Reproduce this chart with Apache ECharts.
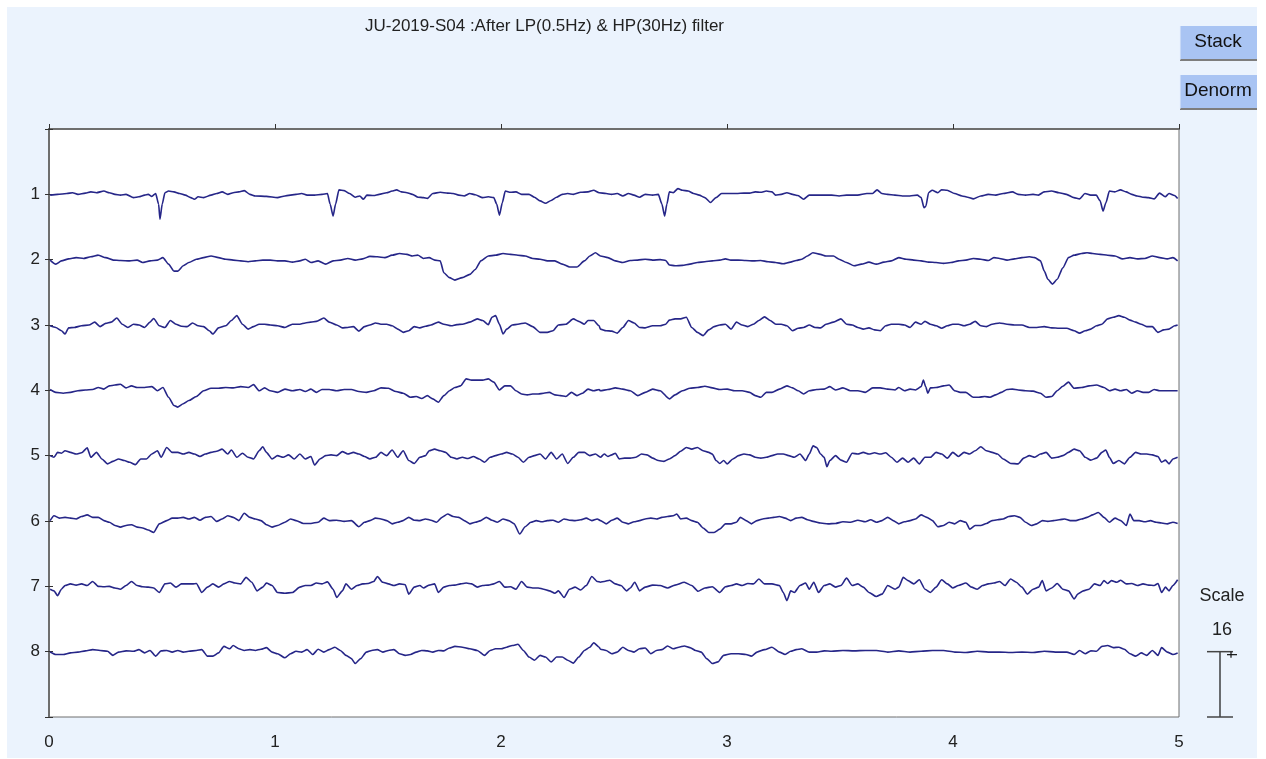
<!DOCTYPE html>
<html>
<head>
<meta charset="utf-8">
<title>JU-2019-S04</title>
<script src="https://cdn.jsdelivr.net/npm/echarts@6/dist/echarts.min.js"></script>
<style>
  html, body { margin: 0; padding: 0; background: #fff; }
  #main { width: 1266px; height: 759px; }
</style>
</head>
<body>
<div id="main"></div>
<script>
// title and labels
var titleText = 'JU-2019-S04 :After LP(0.5Hz) & HP(30Hz) filter'
var channelNames = ['1', '2', '3', '4', '5', '6', '7', '8']
var xTicks = [0, 1, 2, 3, 4, 5]
var scaleValue = 16   // amplitude of one channel spacing

// traces: [time (s), amplitude], amplitude positive = up
var ch1 = [[0.005,-0.2],[0.038,0],[0.079,0.2],[0.104,0.4],[0.128,0],[0.161,0.3],[0.185,0.6],[0.210,0.4],[0.243,0.8],[0.267,0.4],[0.292,0],[0.316,-0.2],[0.341,0],[0.374,-0.8],[0.398,-0.6],[0.423,-0.2],[0.439,0],[0.455,-0.5],[0.472,0.2],[0.485,-2.4],[0.491,-6.1],[0.501,-2.4],[0.513,0.4],[0.529,0.8],[0.553,0.6],[0.578,0.2],[0.603,-0.2],[0.627,-0.8],[0.643,-1.2],[0.660,-0.6],[0.684,-0.8],[0.717,-0.2],[0.742,0.2],[0.766,0.6],[0.791,0],[0.815,0.4],[0.840,0.6],[0.864,0.9],[0.889,0],[0.913,-0.4],[0.962,-0.5],[1.011,-0.8],[1.044,-0.4],[1.093,0],[1.118,0.2],[1.142,-0.2],[1.175,-0.2],[1.208,0],[1.232,0.2],[1.244,-2.4],[1.257,-5.3],[1.268,-2.4],[1.283,1.1],[1.306,0.9],[1.330,0.2],[1.355,-0.7],[1.375,-0.4],[1.391,-1.2],[1.407,-0.2],[1.437,-0.3],[1.461,0],[1.494,0.4],[1.518,0.8],[1.538,1.1],[1.559,0.6],[1.584,0.4],[1.608,0],[1.633,-0.7],[1.657,-0.8],[1.674,-1.0],[1.698,0.2],[1.731,0.5],[1.764,0.3],[1.788,0.2],[1.813,-0.2],[1.837,-0.4],[1.862,0.2],[1.886,-0.1],[1.919,-0.8],[1.944,-0.6],[1.968,-0.8],[1.981,-2.4],[1.993,-5.1],[2.006,-2.0],[2.019,0.8],[2.042,0.5],[2.066,0.6],[2.091,0],[2.124,0],[2.148,-0.7],[2.173,-1.6],[2.197,-2.2],[2.222,-1.5],[2.246,-0.7],[2.271,0],[2.295,0.2],[2.320,0],[2.353,0.5],[2.385,0.6],[2.410,1.0],[2.434,0.4],
  [2.465,0.2],[2.489,0],[2.514,0.2],[2.539,-0.4],[2.564,0.2],[2.588,-0.2],[2.613,-0.7],[2.638,0],[2.671,-0.2],[2.696,0],[2.712,-2.4],[2.724,-5.3],[2.734,-2.4],[2.745,0.6],[2.762,0.4],[2.783,1.4],[2.803,1.0],[2.828,0.8],[2.852,0.2],[2.877,-0.2],[2.902,-0.8],[2.927,-2.0],[2.951,-0.8],[2.976,0.2],[3.009,0.2],[3.042,0.2],[3.075,0.3],[3.100,0.3],[3.125,0.6],[3.149,0.5],[3.174,0.8],[3.199,0.6],[3.215,-0.2],[3.240,0],[3.265,0.4],[3.290,0],[3.314,-0.3],[3.339,-1.2],[3.364,-0.2],[3.397,-0.2],[3.430,-0.2],[3.463,-0.2],[3.496,-0.4],[3.529,-0.2],[3.578,-0.2],[3.619,0.2],[3.644,0.2],[3.664,1.1],[3.685,0.2],[3.710,0],[3.743,-0.2],[3.776,-0.4],[3.809,-0.4],[3.842,-0.2],[3.859,-0.8],[3.872,-3.3],[3.880,-2.9],[3.892,0.4],[3.908,1.0],[3.933,0.4],[3.949,1.1],[3.974,1.0],[4.007,0.2],[4.040,-0.4],[4.065,-0.7],[4.090,-1.1],[4.123,-0.4],[4.156,0],[4.189,-0.2],[4.222,0.2],[4.263,0.6],[4.288,0],[4.321,-0.2],[4.354,0],[4.378,-0.2],[4.403,0.6],[4.436,0.8],[4.469,0.4],[4.502,0],[4.535,-0.8],[4.560,-1.1],[4.584,0.2],[4.609,-0.2],[4.634,-0.2],[4.651,-1.6],[4.664,-4.1],[4.677,-2.0],[4.692,0.8],[4.716,0.6],[4.741,1.1],[4.766,0.6],[4.791,0],[4.815,-0.4],[4.840,-0.7],[4.865,-0.8],[4.890,-1.1],[4.914,0.3],[4.939,-0.6],[4.956,0.2],[4.980,-0.3],[4.994,-1.0]]

var ch2 = [[0.005,-0.1],[0.030,-1.1],[0.055,-0.3],[0.087,0.2],[0.120,0.5],[0.153,0.3],[0.185,0.7],[0.218,1.1],[0.251,0.5],[0.284,-0.1],[0.316,-0.2],[0.357,-0.3],[0.390,-0.1],[0.414,-0.7],[0.447,-0.3],[0.480,-0.1],[0.504,0.5],[0.529,-1.1],[0.553,-2.8],[0.570,-2.8],[0.594,-1.5],[0.619,-0.7],[0.652,0.1],[0.684,0.5],[0.717,0.9],[0.750,0.5],[0.782,0.1],[0.815,-0.1],[0.848,-0.3],[0.881,-0.5],[0.913,-0.3],[0.946,-0.1],[0.979,-0.1],[1.011,-0.3],[1.044,-0.3],[1.077,-0.6],[1.110,-0.3],[1.134,0.1],[1.159,-0.7],[1.191,-0.3],[1.224,-1.1],[1.257,-0.3],[1.289,-0.1],[1.322,0.3],[1.355,-0.1],[1.388,0.2],[1.420,0.8],[1.453,0.7],[1.486,0.5],[1.518,1.1],[1.551,1.5],[1.584,1.3],[1.608,0.9],[1.633,1.1],[1.657,0.3],[1.682,0.5],[1.707,-0.1],[1.731,-0.3],[1.747,-3.2],[1.772,-4.4],[1.796,-5.0],[1.829,-4.4],[1.862,-3.6],[1.886,-2.4],[1.911,-0.3],[1.944,0.9],[1.976,1.1],[2.009,1.5],[2.042,1.3],[2.075,1.1],[2.107,0.9],[2.140,0.3],[2.173,0.1],[2.205,-0.3],[2.238,-0.3],[2.271,-1.1],[2.304,-1.8],[2.336,-1.8],[2.369,-0.3],[2.393,0.9],[2.418,1.7],
  [2.440,0.9],[2.473,0.5],[2.506,-0.3],[2.539,-0.7],[2.572,-0.2],[2.605,-0.1],[2.638,0.1],[2.671,-0.1],[2.704,0],[2.729,-0.2],[2.745,-1.3],[2.770,-1.5],[2.803,-1.4],[2.836,-1.1],[2.869,-0.7],[2.902,-0.5],[2.935,-0.3],[2.968,-0.1],[2.993,0.2],[3.017,-0.1],[3.050,-0.1],[3.083,-0.2],[3.116,-0.3],[3.149,-0.2],[3.182,-0.5],[3.215,-0.7],[3.248,-1.0],[3.281,-0.6],[3.306,-0.2],[3.331,0.1],[3.356,0.9],[3.380,1.7],[3.413,1.3],[3.438,0.9],[3.471,0.9],[3.496,0.1],[3.529,-0.7],[3.562,-1.5],[3.595,-1.1],[3.628,-0.6],[3.661,-1.1],[3.694,-0.6],[3.727,-0.3],[3.760,0.5],[3.793,0.1],[3.826,-0.1],[3.859,-0.3],[3.892,-0.6],[3.925,-0.7],[3.958,-0.9],[3.991,-0.7],[4.024,-0.3],[4.057,-0.1],[4.090,0.3],[4.123,0.1],[4.156,-0.2],[4.181,0.5],[4.206,0.3],[4.239,-0.1],[4.272,0.2],[4.305,0.5],[4.338,0.7],[4.362,0.5],[4.387,-0.3],[4.404,-2.8],[4.420,-4.8],[4.440,-6.0],[4.461,-4.8],[4.486,-2.0],[4.511,0.5],[4.536,1.1],[4.569,1.5],[4.593,1.7],[4.618,1.5],[4.651,1.3],[4.684,1.1],[4.717,0.9],[4.750,0.2],[4.783,0.5],[4.816,0.2],[4.849,0.3],[4.882,0.9],[4.915,0.5],[4.948,0.2],[4.973,0.5],[4.994,-0.3]]

var ch3 = [[0.005,-0.2],[0.030,-0.6],[0.055,-1.4],[0.071,-2.2],[0.087,-0.7],[0.112,-0.6],[0.144,-0.2],[0.177,0],[0.202,0.7],[0.226,-0.4],[0.251,0.4],[0.275,0.7],[0.300,1.7],[0.324,0.2],[0.349,-0.6],[0.374,0.2],[0.398,0],[0.423,-0.6],[0.447,0.7],[0.463,1.6],[0.488,-0.2],[0.513,-0.6],[0.537,1.1],[0.562,0.2],[0.586,-0.3],[0.611,-0.4],[0.635,0.5],[0.660,-0.2],[0.684,-0.4],[0.709,-1.4],[0.725,-2.2],[0.750,-0.7],[0.782,-0.2],[0.807,1.1],[0.831,2.3],[0.856,0.2],[0.881,-1.0],[0.905,-0.4],[0.930,0.2],[0.954,0.2],[0.979,0],[1.011,-0.2],[1.044,-0.6],[1.077,0.2],[1.110,0.2],[1.134,0.5],[1.159,0.7],[1.183,0.9],[1.216,1.7],[1.240,0.7],[1.273,0],[1.298,-0.7],[1.322,-0.6],[1.347,-0.4],[1.371,-1.5],[1.396,-0.4],[1.420,0],[1.445,0.5],[1.469,0.2],[1.494,0.2],[1.518,-0.2],[1.543,-1.0],[1.567,-1.8],[1.592,-1.4],[1.616,-0.4],[1.641,-0.7],[1.666,-0.3],[1.690,0],[1.723,0.7],[1.747,0.2],[1.780,-0.2],[1.805,0.1],[1.829,0.2],[1.862,0.7],[1.895,1.5],[1.919,1.1],[1.944,0.1],[1.960,1.9],[1.976,2.3],[1.993,0.2],[2.009,-2.2],[2.025,-1.0],[2.050,0],[2.075,0.2],[2.107,0.5],[2.140,-0.4],[2.173,-1.8],[2.205,-1.8],[2.230,-1.4],[2.254,0],[2.287,0.2],[2.320,1.5],[2.344,0.9],[2.369,0.2],[2.385,1.1],[2.410,1.1],[2.434,-0.2],
  [2.440,-1.0],[2.465,-1.4],[2.490,-1.5],[2.514,-2.0],[2.539,-0.6],[2.564,1.1],[2.589,0.5],[2.613,-0.6],[2.638,-0.7],[2.671,-0.2],[2.704,-0.2],[2.729,0.2],[2.745,1.2],[2.770,1.5],[2.795,1.5],[2.820,1.9],[2.844,-0.6],[2.869,-1.8],[2.894,-2.6],[2.919,-1.2],[2.943,-0.4],[2.968,0],[2.993,0.2],[3.018,-1.0],[3.042,0.7],[3.067,0],[3.092,-0.4],[3.117,0.2],[3.141,1.1],[3.166,2.0],[3.191,1.1],[3.216,0.2],[3.240,0.2],[3.265,-0.2],[3.290,-1.4],[3.315,-0.8],[3.339,-0.6],[3.364,0],[3.389,-0.6],[3.414,-0.7],[3.438,0.2],[3.471,0.7],[3.504,1.5],[3.529,0.2],[3.554,0],[3.579,-0.6],[3.603,-1.0],[3.628,-0.7],[3.653,-1.2],[3.678,-1.4],[3.702,-0.2],[3.727,0.2],[3.760,0.2],[3.785,0],[3.810,-0.6],[3.834,0.7],[3.859,0.2],[3.876,0.9],[3.900,0.2],[3.925,-0.2],[3.950,-0.8],[3.975,-0.2],[3.999,0.2],[4.024,0.2],[4.049,-0.2],[4.074,0.2],[4.098,0.9],[4.123,-0.2],[4.148,-0.4],[4.173,0.2],[4.206,0.5],[4.239,0.2],[4.272,0],[4.305,0],[4.338,-0.6],[4.371,-0.6],[4.404,-0.4],[4.437,-0.7],[4.470,-0.8],[4.503,-0.8],[4.536,-1.4],[4.560,-2.0],[4.585,-1.4],[4.610,-1.0],[4.635,-0.2],[4.659,0.2],[4.684,1.5],[4.709,1.9],[4.734,2.3],[4.758,1.9],[4.783,1.2],[4.808,0.7],[4.833,0.2],[4.857,-0.4],[4.882,-0.4],[4.907,-1.8],[4.932,-1.2],[4.956,-1.0],[4.981,-0.2],[4.994,0]]

var ch4 = [[0.005,0.2],[0.030,-0.5],[0.063,-0.7],[0.095,-0.5],[0.128,-0.1],[0.161,0.1],[0.193,0.2],[0.218,0.7],[0.243,0.3],[0.267,1.1],[0.292,1.3],[0.316,1.5],[0.341,0.6],[0.365,1.1],[0.390,0.7],[0.423,0.7],[0.455,0.9],[0.480,-0.1],[0.504,0.7],[0.529,-1.7],[0.553,-3.7],[0.570,-4.1],[0.594,-3.3],[0.619,-2.5],[0.652,-1.5],[0.684,-0.1],[0.717,0.5],[0.750,0.5],[0.782,0.7],[0.815,0.6],[0.848,0.9],[0.881,0.7],[0.905,1.4],[0.930,-0.1],[0.954,0.6],[0.979,-0.1],[1.011,-0.5],[1.044,0.3],[1.077,-0.1],[1.110,0.2],[1.134,-0.3],[1.159,0.3],[1.183,-0.5],[1.208,0.2],[1.240,0.2],[1.273,-0.1],[1.306,0.2],[1.338,0.2],[1.371,-0.3],[1.404,-0.5],[1.437,-0.1],[1.469,0.6],[1.502,0.5],[1.535,-0.3],[1.567,-0.7],[1.600,-1.7],[1.625,-1.5],[1.649,-2.0],[1.674,-1.3],[1.698,-2.1],[1.723,-2.9],[1.747,-1.3],[1.772,-0.1],[1.796,0.7],[1.821,1.1],[1.846,2.8],[1.870,2.5],[1.895,2.5],[1.919,2.5],[1.944,2.8],[1.968,2.0],[1.993,0.1],[2.017,1.1],[2.042,1.1],[2.066,-0.1],[2.091,-0.9],[2.116,-1.1],[2.140,-0.9],[2.165,-0.9],[2.189,-0.7],[2.214,-0.5],[2.238,-1.1],[2.263,-1.3],[2.287,-1.5],[2.312,-0.5],[2.336,-1.3],[2.361,-0.7],[2.385,0.3],[2.410,-0.1],[2.434,0.2],
  [2.440,-0.1],[2.473,0.2],[2.506,0.6],[2.539,0.3],[2.572,-0.1],[2.605,-1.3],[2.638,-0.5],[2.671,0.3],[2.704,-0.1],[2.745,-2.1],[2.770,-1.1],[2.803,-0.1],[2.836,0.5],[2.869,0.7],[2.902,1.0],[2.935,0.6],[2.968,0.2],[3.001,0.3],[3.034,-0.1],[3.067,-0.1],[3.100,-0.5],[3.125,-1.3],[3.150,-1.7],[3.174,-0.5],[3.199,-0.5],[3.232,0.3],[3.265,1.1],[3.290,0.6],[3.315,-0.1],[3.339,-0.9],[3.364,-0.1],[3.397,0.2],[3.430,0.3],[3.455,0.9],[3.480,0.1],[3.513,0.6],[3.546,-0.1],[3.579,-0.1],[3.612,-0.5],[3.645,0.6],[3.678,0.6],[3.711,0.3],[3.744,0.1],[3.760,0.7],[3.785,-0.1],[3.810,0.3],[3.834,0.1],[3.859,0.9],[3.869,2.5],[3.879,0.9],[3.889,-0.7],[3.900,0.6],[3.925,0.7],[3.958,1.1],[3.983,1.3],[4.008,-0.1],[4.032,-0.5],[4.057,-0.5],[4.090,-1.7],[4.115,-1.7],[4.140,-1.5],[4.164,-1.7],[4.189,-1.1],[4.214,-0.5],[4.239,0.2],[4.263,0.3],[4.288,0.1],[4.321,-0.1],[4.354,-0.2],[4.387,-0.7],[4.412,-1.7],[4.437,-1.5],[4.461,-0.1],[4.486,1.0],[4.511,2.0],[4.536,0.5],[4.569,0.7],[4.602,1.1],[4.635,1.3],[4.668,0.7],[4.692,-0.1],[4.717,0.3],[4.742,-0.1],[4.767,0.2],[4.791,-0.7],[4.816,-0.1],[4.841,-0.5],[4.866,-0.5],[4.890,0.2],[4.915,-0.1],[4.948,-0.1],[4.994,-0.1]]

var ch5 = [[0.005,0],[0.022,-0.4],[0.038,0.8],[0.055,0.6],[0.071,1.2],[0.095,0.8],[0.120,0.4],[0.144,0.7],[0.169,1.9],[0.185,-0.4],[0.210,0.8],[0.234,-0.8],[0.259,-2.0],[0.283,-1.4],[0.308,-0.8],[0.333,-1.2],[0.357,-1.6],[0.382,-2.2],[0.406,-0.8],[0.431,-0.8],[0.455,0.4],[0.480,1.2],[0.496,-0.4],[0.521,2.0],[0.545,0.8],[0.570,0.8],[0.594,0.4],[0.619,0.8],[0.643,0.4],[0.668,-0.2],[0.692,0.4],[0.717,0.8],[0.742,1.1],[0.766,1.6],[0.791,0.4],[0.807,1.4],[0.831,-0.4],[0.856,0.6],[0.881,-0.4],[0.905,-0.8],[0.930,1.2],[0.946,2.2],[0.962,0.8],[0.987,-0.8],[1.011,0],[1.036,-0.4],[1.060,0.2],[1.085,-0.8],[1.110,0.4],[1.134,-0.8],[1.159,-0.2],[1.175,-2.3],[1.199,-0.8],[1.224,0],[1.248,0.2],[1.273,0],[1.298,1.0],[1.322,0.4],[1.347,0.8],[1.371,0.4],[1.396,-0.2],[1.420,-0.8],[1.445,-0.4],[1.469,0.8],[1.494,0],[1.518,1.4],[1.543,-0.4],[1.567,1.2],[1.592,-1.2],[1.616,-1.9],[1.641,-0.4],[1.666,0],[1.682,1.2],[1.706,1.6],[1.731,1.2],[1.755,0.8],[1.780,-0.4],[1.805,-0.8],[1.829,-0.4],[1.854,-0.7],[1.878,-0.2],[1.903,-0.8],[1.927,-1.6],[1.952,-0.4],[1.976,0],[2.001,0.4],[2.025,0.8],[2.050,0.4],[2.075,-0.4],[2.099,-1.6],[2.124,-0.4],[2.148,0],[2.173,0.4],[2.197,-0.8],[2.222,0.8],[2.246,-0.8],[2.271,0.4],[2.295,-1.9],[2.320,-0.4],[2.344,0.8],[2.369,0.8],[2.393,0],[2.418,0.4],
  [2.440,-0.4],[2.457,0.4],[2.473,-0.2],[2.490,0.2],[2.506,0.6],[2.523,-0.8],[2.547,-0.6],[2.572,-0.6],[2.597,-0.4],[2.622,0.4],[2.646,0.2],[2.671,-0.6],[2.696,-1.2],[2.721,-1.4],[2.745,-0.8],[2.770,0],[2.795,1.1],[2.820,2.0],[2.844,1.6],[2.869,2.0],[2.894,1.2],[2.919,0.8],[2.935,0.4],[2.952,-1.2],[2.968,-1.9],[2.985,-1.2],[3.001,-2.0],[3.026,-0.8],[3.051,0],[3.075,0.4],[3.100,0.2],[3.125,-0.4],[3.150,-0.6],[3.174,-0.4],[3.199,0],[3.224,0.4],[3.249,0.4],[3.273,0],[3.298,-0.4],[3.323,0.4],[3.348,-1.2],[3.364,0.4],[3.381,2.4],[3.397,2.0],[3.414,0.4],[3.430,-0.4],[3.442,-2.7],[3.455,-1.2],[3.480,0],[3.504,-1.1],[3.529,-1.6],[3.554,0.6],[3.579,0.4],[3.603,0.8],[3.628,0.4],[3.653,0.7],[3.678,0.4],[3.702,0.7],[3.727,-0.4],[3.752,-1.6],[3.777,-0.6],[3.801,-1.6],[3.826,-0.6],[3.851,-2.0],[3.876,-0.4],[3.900,-0.4],[3.925,0.8],[3.950,0.4],[3.975,-0.6],[3.999,0.8],[4.024,-0.2],[4.049,0.8],[4.074,0.4],[4.098,1.2],[4.123,2.2],[4.148,1.2],[4.173,0.8],[4.197,0.4],[4.222,-0.8],[4.255,-1.9],[4.288,-2.0],[4.313,-0.6],[4.338,0],[4.362,-0.4],[4.387,0.4],[4.412,0.8],[4.437,-0.6],[4.461,-0.4],[4.486,0],[4.511,0.8],[4.536,1.6],[4.560,1.2],[4.585,-0.4],[4.610,-1.1],[4.635,-0.6],[4.659,0.8],[4.676,1.4],[4.692,-0.4],[4.709,-1.9],[4.734,-1.2],[4.758,-2.0],[4.783,-0.4],[4.808,0.8],[4.833,0.4],[4.857,0.4],[4.882,0.2],[4.907,-0.2],[4.923,-1.6],[4.940,-1.1],[4.956,-2.0],[4.973,-0.8],[4.994,-0.4]]

var ch6 = [[0.005,0.1],[0.022,1.3],[0.046,0.7],[0.071,0.9],[0.095,0.7],[0.120,0.5],[0.144,1.1],[0.169,1.5],[0.193,0.9],[0.218,0.9],[0.243,0.1],[0.267,-0.3],[0.292,-1.1],[0.316,-1.5],[0.341,-1.1],[0.365,-0.9],[0.390,-1.5],[0.414,-1.7],[0.439,-2.2],[0.463,-2.8],[0.488,-0.7],[0.521,0.1],[0.545,0.7],[0.570,0.7],[0.594,0.9],[0.619,0.5],[0.643,0.9],[0.668,0.2],[0.692,0.9],[0.717,1.1],[0.742,-0.1],[0.766,0.5],[0.791,1.3],[0.815,0.9],[0.840,0.1],[0.864,1.9],[0.889,0.9],[0.913,0.5],[0.938,0.1],[0.962,-0.9],[0.987,-1.5],[1.011,-1.1],[1.044,-0.3],[1.069,0.5],[1.093,0.1],[1.126,-0.6],[1.159,-0.6],[1.191,-0.3],[1.216,0.7],[1.240,0.1],[1.273,0.2],[1.306,-0.1],[1.338,0.1],[1.371,-1.4],[1.396,-0.3],[1.420,0.1],[1.445,0.7],[1.469,0.5],[1.494,0.1],[1.518,-0.7],[1.543,-0.3],[1.567,0.1],[1.592,0.9],[1.616,0.2],[1.641,0.1],[1.666,0.5],[1.690,0.2],[1.715,-0.3],[1.739,0.9],[1.764,1.7],[1.788,1.1],[1.813,0.9],[1.837,0.1],[1.862,-0.7],[1.886,-0.3],[1.911,0.1],[1.935,0.9],[1.960,0.2],[1.984,-0.3],[2.009,0.5],[2.034,0.1],[2.058,-0.7],[2.083,-3.2],[2.107,-1.4],[2.132,-0.3],[2.156,0.1],[2.181,-0.2],[2.205,0.1],[2.230,0.2],[2.254,-0.3],[2.279,0.5],[2.303,0.2],[2.328,0.1],[2.353,0.3],[2.377,0.7],[2.402,0.1],[2.426,0.5],
  [2.440,0.1],[2.465,-0.7],[2.490,0.2],[2.514,0.7],[2.539,-0.3],[2.564,-0.7],[2.589,-0.2],[2.613,0.1],[2.638,0.5],[2.663,0.7],[2.688,0.5],[2.712,0.9],[2.737,1.1],[2.762,1.3],[2.778,1.7],[2.795,0.5],[2.820,0.7],[2.844,0.1],[2.869,-0.3],[2.894,-1.7],[2.919,-2.8],[2.943,-2.8],[2.968,-2.0],[2.993,-0.7],[3.018,-0.7],[3.042,-0.3],[3.059,0.9],[3.084,0.1],[3.108,-0.7],[3.133,0.1],[3.158,0.5],[3.183,0.7],[3.207,0.9],[3.232,1.1],[3.257,0.7],[3.282,0.1],[3.306,0.7],[3.331,0.9],[3.356,0.3],[3.381,-0.1],[3.414,-0.5],[3.447,-0.7],[3.480,-0.6],[3.513,-0.2],[3.546,-0.3],[3.579,0.2],[3.612,-0.2],[3.636,0.3],[3.661,-0.3],[3.686,0.1],[3.711,0.9],[3.735,0.1],[3.760,-0.7],[3.785,-0.2],[3.810,0.1],[3.834,0.5],[3.859,1.5],[3.884,0.9],[3.909,0.1],[3.933,-1.4],[3.958,-1.1],[3.983,-0.3],[4.008,-0.7],[4.032,0.1],[4.057,-0.3],[4.074,-2.0],[4.098,-1.1],[4.123,-1.1],[4.148,-0.6],[4.173,0.1],[4.197,0.3],[4.222,0.5],[4.247,1.1],[4.272,1.3],[4.296,0.9],[4.321,-0.3],[4.346,-1.1],[4.371,-0.7],[4.396,0.1],[4.420,-0.1],[4.445,0.1],[4.470,0.3],[4.494,0.5],[4.519,0.1],[4.544,0.1],[4.569,0.5],[4.593,0.9],[4.618,1.5],[4.643,2.1],[4.668,0.9],[4.692,-0.3],[4.717,0.7],[4.742,0.1],[4.767,-1.1],[4.783,1.7],[4.800,0.1],[4.824,0.1],[4.849,-0.2],[4.874,0.1],[4.899,-0.3],[4.923,-0.5],[4.948,-0.7],[4.973,-0.3],[4.994,-0.6]]

var ch7 = [[0.005,-0.7],[0.022,-1.1],[0.038,-2.3],[0.055,-0.7],[0.071,0.2],[0.095,0.6],[0.120,0.3],[0.144,0.6],[0.169,0.2],[0.193,1.2],[0.218,0],[0.243,-0.1],[0.267,0],[0.292,-0.4],[0.316,-0.7],[0.341,0.2],[0.365,1.2],[0.390,0.2],[0.414,-0.1],[0.439,-0.2],[0.463,-0.4],[0.488,-1.5],[0.513,0.6],[0.537,0.8],[0.562,-0.2],[0.586,0.6],[0.611,0.6],[0.635,0.6],[0.652,0.7],[0.676,-1.5],[0.701,-0.2],[0.725,0.6],[0.750,-0.2],[0.774,0.6],[0.799,1.2],[0.823,0.8],[0.848,0.6],[0.872,2.2],[0.897,1.0],[0.921,-1.1],[0.946,-0.2],[0.962,0.8],[0.987,0.2],[1.011,-1.5],[1.044,-1.7],[1.077,-1.5],[1.110,-0.2],[1.134,0.2],[1.159,0.2],[1.183,0.8],[1.208,0.6],[1.232,1.1],[1.257,-0.7],[1.273,-2.7],[1.298,-1.1],[1.314,0.6],[1.338,-0.7],[1.363,0.2],[1.388,0.6],[1.412,0.7],[1.437,1.2],[1.453,2.4],[1.477,1.0],[1.502,0.6],[1.526,0.2],[1.551,0.6],[1.576,0.4],[1.592,-1.9],[1.616,-0.2],[1.641,0.2],[1.657,-0.4],[1.682,0.3],[1.706,0.6],[1.723,-1.5],[1.747,-0.2],[1.772,0.2],[1.796,0.3],[1.821,0.6],[1.846,0.8],[1.870,0.6],[1.895,-0.2],[1.919,0.2],[1.944,0.3],[1.968,0.6],[1.993,1.2],[2.017,-0.2],[2.042,-0.1],[2.066,-0.7],[2.091,1.2],[2.116,-0.2],[2.140,-0.4],[2.165,-0.4],[2.189,-0.7],[2.214,-1.1],[2.238,-1.7],[2.254,-1.1],[2.279,-2.7],[2.303,-0.7],[2.328,-0.2],[2.353,-0.9],[2.377,0.2],[2.402,2.4],[2.426,1.2],
  [2.440,1.0],[2.457,1.2],[2.481,1.5],[2.506,0.6],[2.531,0.2],[2.556,-1.1],[2.572,-0.4],[2.592,1.0],[2.613,-1.1],[2.638,-0.2],[2.671,0.3],[2.704,0.2],[2.737,-0.4],[2.770,0.3],[2.811,1.0],[2.844,0.2],[2.872,-1.2],[2.902,-0.4],[2.935,-0.1],[2.968,-1.5],[2.993,-0.1],[3.018,0.2],[3.042,0.6],[3.067,0.2],[3.092,0.7],[3.117,0.6],[3.141,1.8],[3.166,0.6],[3.199,0.6],[3.232,0.2],[3.249,-1.5],[3.265,-3.5],[3.282,-1.1],[3.298,-1.5],[3.323,0.2],[3.348,0.8],[3.364,-0.7],[3.384,1.0],[3.405,-1.5],[3.430,0.2],[3.455,0.6],[3.480,-0.2],[3.504,0.2],[3.529,2.0],[3.554,0.2],[3.579,0.6],[3.603,-0.2],[3.628,-1.5],[3.661,-2.5],[3.686,-1.9],[3.711,0.2],[3.744,-0.7],[3.760,-0.2],[3.780,2.2],[3.801,1.4],[3.826,0.6],[3.851,1.6],[3.876,-0.7],[3.900,-1.5],[3.925,-0.2],[3.950,1.6],[3.975,0.6],[3.999,-0.4],[4.024,0.2],[4.057,0.8],[4.082,-0.2],[4.107,-0.7],[4.131,0.2],[4.156,0.6],[4.181,0.8],[4.206,1.2],[4.230,0.2],[4.255,1.8],[4.280,1.0],[4.305,-0.2],[4.329,-1.9],[4.354,-0.7],[4.379,-0.2],[4.395,1.4],[4.412,-1.1],[4.437,-0.4],[4.461,0.7],[4.486,-0.7],[4.511,-1.1],[4.536,-3.1],[4.552,-1.9],[4.577,-1.1],[4.602,-0.7],[4.626,0.6],[4.651,0.2],[4.668,1.4],[4.684,0.7],[4.701,1.4],[4.725,1.0],[4.742,1.5],[4.767,0.6],[4.791,0.7],[4.816,0.2],[4.841,0.6],[4.866,0.3],[4.890,0.2],[4.907,0.7],[4.923,-1.5],[4.940,-0.2],[4.956,-1.1],[4.973,0.2],[4.994,1.6]]

var ch8 = [[0.005,-0.1],[0.030,-0.7],[0.063,-0.7],[0.095,-0.3],[0.128,-0.1],[0.161,0.2],[0.193,0.5],[0.226,0.3],[0.259,0.1],[0.283,-0.9],[0.308,-0.1],[0.341,0.2],[0.374,0.1],[0.398,0.5],[0.423,-0.3],[0.447,0.3],[0.472,-1.1],[0.496,0.2],[0.521,0.3],[0.545,-0.1],[0.570,0.3],[0.594,-0.1],[0.619,0.1],[0.652,0.3],[0.676,0.5],[0.701,-1.1],[0.725,-1.1],[0.750,-0.3],[0.774,1.3],[0.799,0.7],[0.815,1.5],[0.840,0.7],[0.864,0.3],[0.889,0.5],[0.913,0.3],[0.938,0.6],[0.962,1.0],[0.987,-0.1],[1.011,-0.5],[1.044,-1.5],[1.069,-0.5],[1.093,0.1],[1.118,-0.1],[1.142,0.5],[1.167,-0.7],[1.191,0.6],[1.216,-0.1],[1.240,0.5],[1.265,1.1],[1.289,0.3],[1.314,-0.9],[1.338,-1.7],[1.355,-2.9],[1.379,-1.7],[1.404,-0.1],[1.428,0.3],[1.453,0.5],[1.477,-0.1],[1.502,0.3],[1.526,0.5],[1.551,-0.5],[1.576,-0.9],[1.600,-0.7],[1.625,-0.1],[1.649,0.3],[1.674,0.2],[1.698,-0.1],[1.723,0.3],[1.747,0.2],[1.772,0.9],[1.796,1.3],[1.829,1.1],[1.862,0.7],[1.895,0.3],[1.927,-0.9],[1.952,0.3],[1.976,0.7],[2.001,0.7],[2.025,1.1],[2.050,1.5],[2.075,1.8],[2.099,0.3],[2.124,-1.3],[2.148,-2.1],[2.173,-0.9],[2.197,-1.3],[2.222,-2.5],[2.246,-1.3],[2.271,-1.3],[2.295,-2.1],[2.320,-2.8],[2.344,-1.3],[2.369,0.3],[2.393,1.1],[2.410,2.2],[2.434,1.1],
  [2.440,0.6],[2.465,0.3],[2.490,-0.5],[2.514,-0.1],[2.539,1.1],[2.564,0.3],[2.589,-0.1],[2.613,0.7],[2.638,0.9],[2.663,-0.5],[2.688,0.3],[2.712,0.5],[2.737,1.4],[2.762,0.7],[2.787,1.1],[2.811,1.4],[2.836,1.0],[2.861,0.3],[2.886,-0.1],[2.910,-1.7],[2.935,-2.9],[2.960,-2.5],[2.985,-0.9],[3.018,-0.5],[3.051,-0.5],[3.084,-0.7],[3.108,-1.1],[3.133,-0.1],[3.166,0.5],[3.199,1.1],[3.232,-0.1],[3.257,-0.7],[3.282,0.1],[3.306,0.5],[3.331,0.7],[3.364,-0.1],[3.397,-0.1],[3.430,0.2],[3.463,0.1],[3.513,0.3],[3.562,0.2],[3.612,0.3],[3.661,0.3],[3.711,-0.1],[3.760,0.2],[3.810,-0.1],[3.859,0.1],[3.909,0.3],[3.958,0.3],[4.008,-0.1],[4.057,-0.2],[4.107,0.1],[4.156,-0.1],[4.206,-0.1],[4.255,-0.2],[4.305,-0.1],[4.354,-0.2],[4.404,0.1],[4.453,-0.1],[4.503,-0.1],[4.536,-0.7],[4.560,0.3],[4.585,-0.5],[4.610,0.2],[4.635,0.1],[4.659,1.3],[4.684,1.5],[4.709,1.0],[4.734,1.1],[4.758,0.6],[4.783,-0.5],[4.808,-1.1],[4.833,-0.3],[4.857,-0.9],[4.882,0.3],[4.907,-0.9],[4.923,1.0],[4.948,-0.1],[4.973,-0.7],[4.994,-0.3]]

var channels = [ch1, ch2, ch3, ch4, ch5, ch6, ch7, ch8]

var traceColor = '#262688'
var axisColor = '#6e6e6e'
var fontFamily = '"Liberation Sans", Arial, Helvetica, sans-serif'

// stack each trace on its channel row (row index grows downward)
var series = channels.map(function (pts, i) {
  var row = i + 1
  return {
    name: channelNames[i],
    type: 'line',
    showSymbol: false,
    silent: true,
    animation: false,
    smooth: 0.2,
    smoothMonotone: 'x',
    lineStyle: { color: traceColor, width: 1.6 },
    data: pts.map(function (p) { return [p[0], row - p[1] / scaleValue] })
  }
})

var myChart = echarts.init(document.getElementById('main'), null, { renderer: 'canvas' })

var option = {
  backgroundColor: '#ffffff',
  animation: false,
  title: {
    text: titleText,
    left: 360,
    top: 13,
    textStyle: { fontSize: 17, fontWeight: 'normal', color: '#222', fontFamily: fontFamily }
  },
  grid: {
    left: 49, top: 129, width: 1130, height: 588,
    show: true, backgroundColor: '#ffffff', borderColor: axisColor, borderWidth: 1
  },
  xAxis: [{
    type: 'value', min: 0, max: 5, interval: 1,
    axisLine: { show: true, lineStyle: { color: axisColor, width: 2 } },
    axisTick: { show: true, inside: true, length: 5, lineStyle: { color: '#333' } },
    axisLabel: {
      margin: 17, fontSize: 17, color: '#222', fontFamily: fontFamily,
      formatter: function (v) { return xTicks.indexOf(v) >= 0 ? String(v) : '' }
    },
    splitLine: { show: false }
  }, {
    type: 'value', position: 'top', min: 0, max: 5, interval: 1,
    axisLine: { show: true, lineStyle: { color: axisColor, width: 2 } },
    axisTick: { show: false },
    axisLabel: { show: false },
    splitLine: { show: false }
  }],
  yAxis: [{
    type: 'value', inverse: true, min: 0, max: 9, interval: 1,
    axisLine: { show: true, lineStyle: { color: axisColor, width: 2 } },
    axisTick: { show: true, inside: true, length: 4, lineStyle: { color: '#333' } },
    axisLabel: {
      margin: 9, fontSize: 17, color: '#222', fontFamily: fontFamily, padding: [6, 0, 0, 0],
      formatter: function (v) { return channelNames[v - 1] || '' }
    },
    splitLine: { show: false }
  }, {
    type: 'value', position: 'right', inverse: true, min: 0, max: 9, interval: 1,
    axisLine: { show: true, lineStyle: { color: axisColor, width: 2 } },
    axisTick: { show: true, inside: true, length: 4, lineStyle: { color: '#333' } },
    axisLabel: { show: false },
    splitLine: { show: false }
  }],
  series: series
}
myChart.setOption(option)

// panel, buttons and scale bar
var yTop = myChart.convertToPixel({ yAxisIndex: 0 }, 8)
var yBot = myChart.convertToPixel({ yAxisIndex: 0 }, 9)
var barX = 1220

function button (label, y) {
  return [
    { type: 'rect', z: 10, shape: { x: 1180, y: y, width: 77, height: 34 },
      style: { fill: '#a9c4f3', stroke: null } },
    { type: 'line', z: 11, shape: { x1: 1180, y1: y + 34, x2: 1257, y2: y + 34 },
      style: { stroke: '#7d7d7d', lineWidth: 2 } },
    { type: 'line', z: 11, shape: { x1: 1180, y1: y, x2: 1180, y2: y + 34 },
      style: { stroke: '#e6eefc', lineWidth: 1 } },
    { type: 'text', z: 12, x: 1218, y: y + 16,
      style: { text: label, fill: '#111', fontSize: 19, fontFamily: fontFamily, align: 'center', verticalAlign: 'middle' } }
  ]
}

myChart.setOption({
  graphic: [
    { type: 'rect', z: -100, silent: true, shape: { x: 7, y: 7, width: 1250, height: 751 },
      style: { fill: '#ebf3fd' } }
  ].concat(button('Stack', 26), button('Denorm', 75), [
    { type: 'text', z: 10, x: 1222, y: 596,
      style: { text: 'Scale', fill: '#222', fontSize: 18, fontFamily: fontFamily, align: 'center', verticalAlign: 'middle' } },
    { type: 'text', z: 10, x: 1222, y: 630,
      style: { text: String(scaleValue), fill: '#222', fontSize: 18, fontFamily: fontFamily, align: 'center', verticalAlign: 'middle' } },
    { type: 'line', z: 10, shape: { x1: barX, y1: yTop, x2: barX, y2: yBot }, style: { stroke: '#111', lineWidth: 1.2 } },
    { type: 'line', z: 10, shape: { x1: barX - 13, y1: yTop, x2: barX + 13, y2: yTop }, style: { stroke: '#444', lineWidth: 1.5 } },
    { type: 'line', z: 10, shape: { x1: barX - 13, y1: yBot, x2: barX + 13, y2: yBot }, style: { stroke: '#444', lineWidth: 1.5 } },
    { type: 'line', z: 10, shape: { x1: barX + 7, y1: yTop + 3, x2: barX + 17, y2: yTop + 3 }, style: { stroke: '#111', lineWidth: 1.2 } },
    { type: 'line', z: 10, shape: { x1: barX + 11, y1: yTop, x2: barX + 11, y2: yTop + 6 }, style: { stroke: '#111', lineWidth: 1.2 } }
  ])
})
</script>
</body>
</html>
